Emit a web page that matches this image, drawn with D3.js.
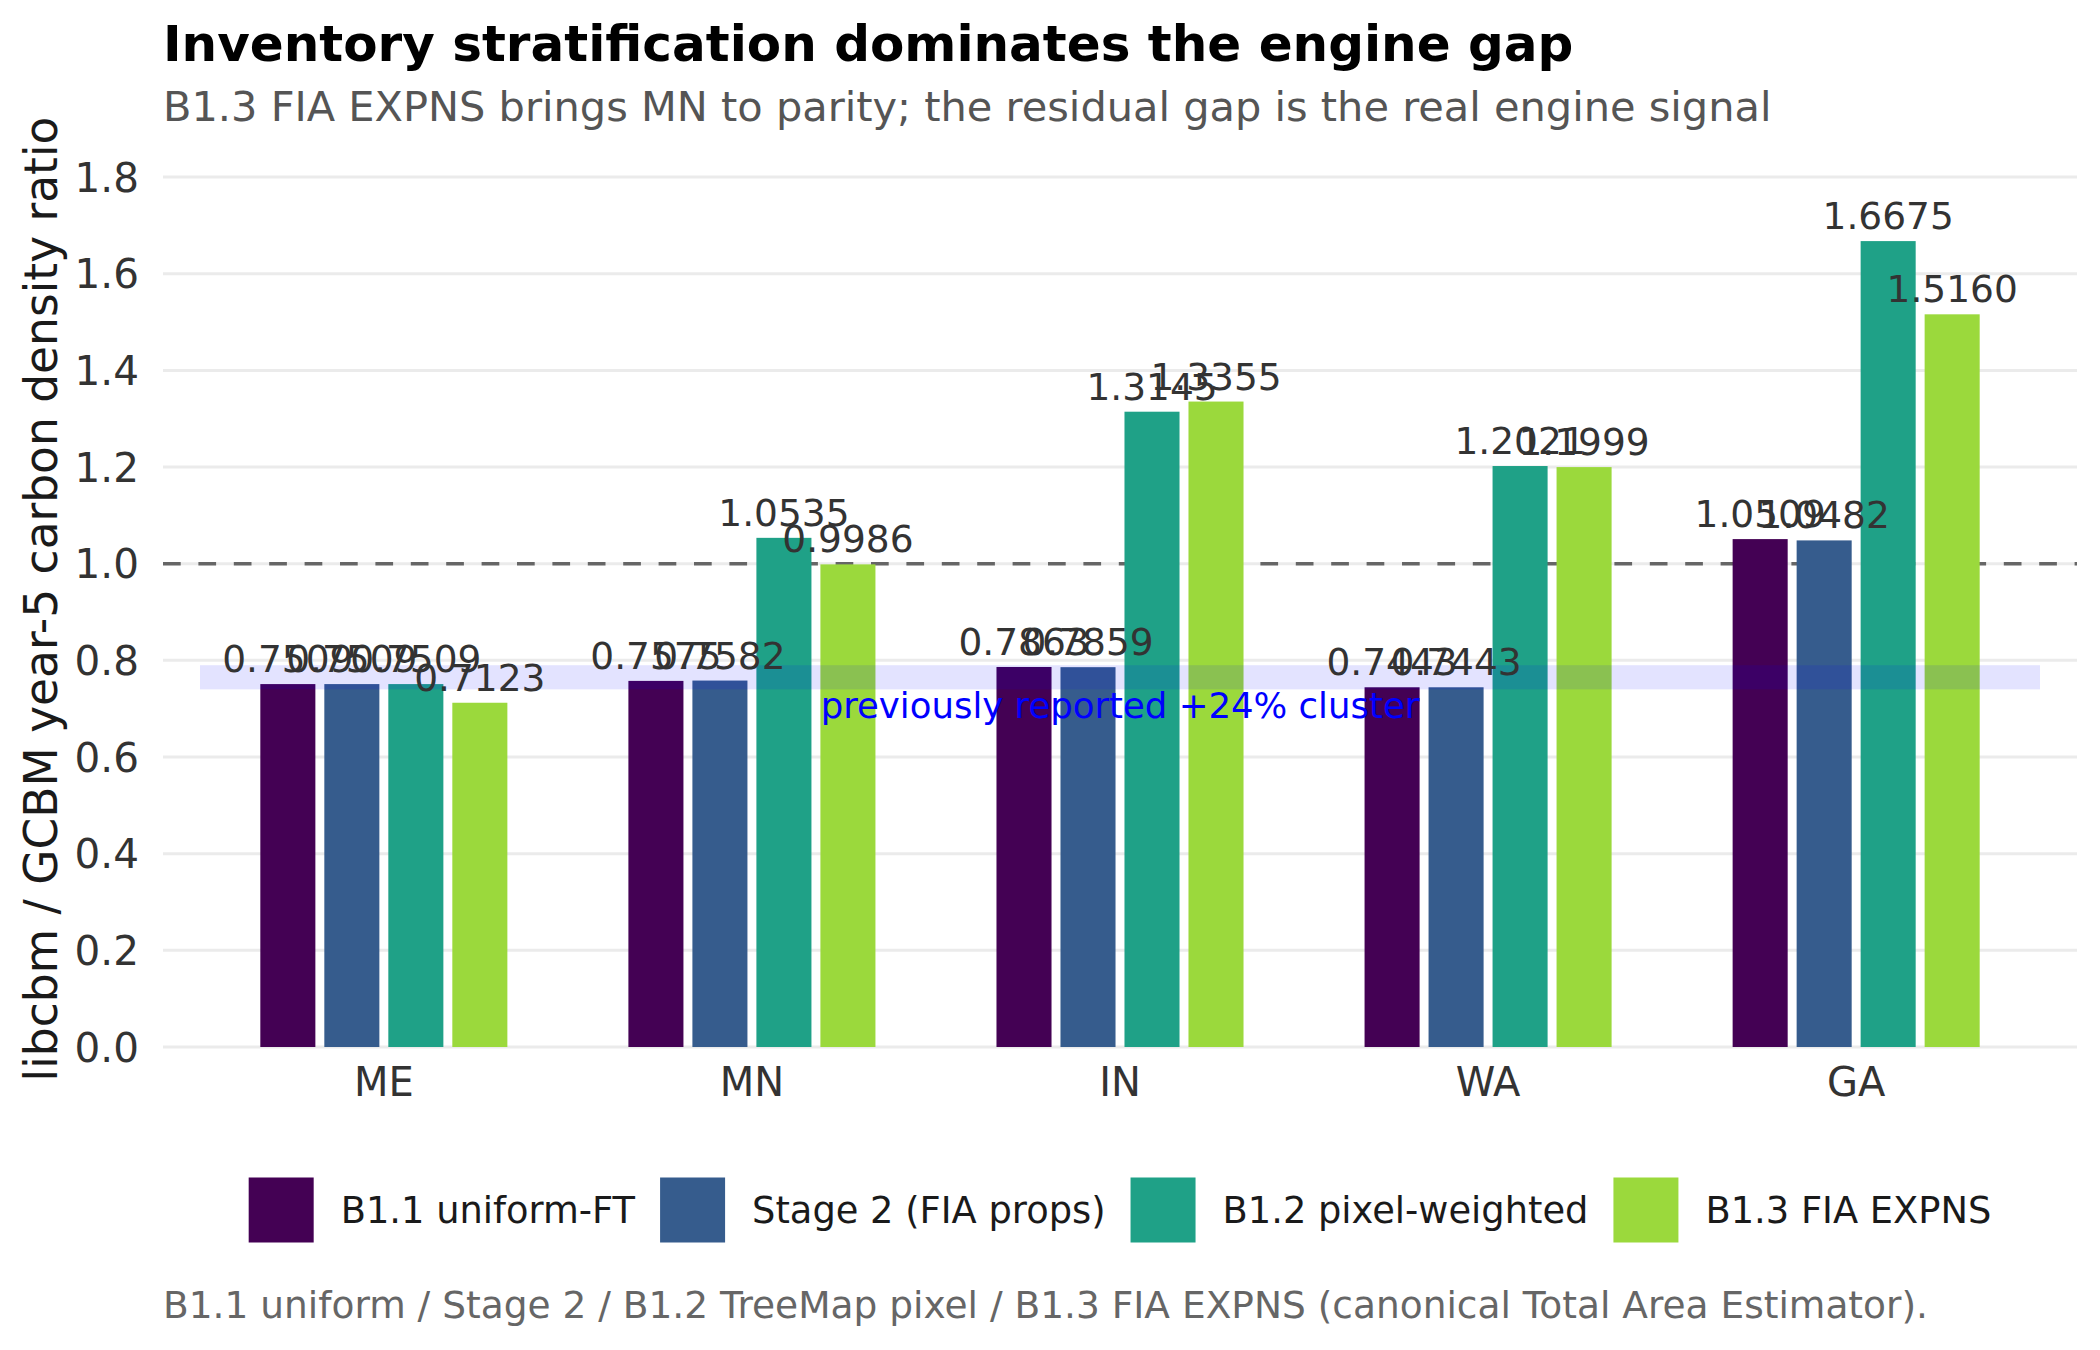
<!DOCTYPE html>
<html>
<head>
<meta charset="utf-8">
<script src="https://cdn.jsdelivr.net/npm/d3@7"></script>
<style>
  body { margin: 0; background: #fff; }
  svg { display: block; font-family: "DejaVu Sans", sans-serif; }
</style>
</head>
<body>
<div id="chart"></div>
<script>
// Data
const states = ['ME', 'MN', 'IN', 'WA', 'GA'];
const seriesNames = ['B1.1 uniform-FT', 'Stage 2 (FIA props)', 'B1.2 pixel-weighted', 'B1.3 FIA EXPNS'];
const seriesColors = ['#440154', '#365C8D', '#1FA187', '#9BD93C'];
const b11Uniform = [0.7509, 0.7575, 0.7863, 0.7443, 1.0509];
const stage2Props = [0.7509, 0.7582, 0.7859, 0.7443, 1.0482];
const b12Pixel = [0.7509, 1.0535, 1.3145, 1.2021, 1.6675];
const b13Expns = [0.7123, 0.9986, 1.3355, 1.1999, 1.5160];
const yTicks = [0, 0.2, 0.4, 0.6, 0.8, 1.0, 1.2, 1.4, 1.6, 1.8];
const clusterBand = [0.74, 0.79];
const parityLine = 1.0;

const seriesValues = [b11Uniform, stage2Props, b12Pixel, b13Expns];

const width = 2100,
	height = 1350;
const panel = { left: 163, right: 2077, top: 128, bottom: 1047 };

const svg = d3.select('#chart').append('svg')
	.attr('width', width)
	.attr('height', height);

// Scales
const x = d3.scalePoint()
	.domain(states)
	.range([panel.left, panel.right])
	.padding(0.6);

const xInner = d3.scaleBand()
	.domain(seriesNames)
	.range([-128, 128])
	.paddingInner(0.14)
	.paddingOuter(0.07);

const y = d3.scaleLinear()
	.domain([0, 1.9])
	.range([panel.bottom, panel.bottom - 1.9 * 483.3]);

const color = d3.scaleOrdinal()
	.domain(seriesNames)
	.range(seriesColors);

// Build rows for bars
const rows = [];
states.forEach((s, i) => {
	seriesNames.forEach((name, j) => {
		rows.push({ state: s, series: name, value: seriesValues[j][i] });
	});
});

// Gridlines
svg.append('g')
	.selectAll('line')
	.data(yTicks)
	.enter()
	.append('line')
		.attr('x1', panel.left)
		.attr('x2', panel.right)
		.attr('y1', d => y(d))
		.attr('y2', d => y(d))
		.style('stroke', '#EBEBEB')
		.style('stroke-width', 3);

// Y axis tick labels
svg.append('g')
	.selectAll('text')
	.data(yTicks)
	.enter()
	.append('text')
		.attr('x', 139)
		.attr('y', d => y(d))
		.attr('dy', '0.36em')
		.attr('text-anchor', 'end')
		.style('font-size', '40.5px')
		.style('fill', '#333')
		.text(d => d3.format('.1f')(d));

// X axis tick labels
svg.append('g')
	.selectAll('text')
	.data(states)
	.enter()
	.append('text')
		.attr('x', d => x(d))
		.attr('y', 1096)
		.attr('text-anchor', 'middle')
		.style('font-size', '40px')
		.style('fill', '#333')
		.text(d => d);

// Parity line
svg.append('line')
	.attr('x1', panel.left)
	.attr('x2', panel.right)
	.attr('y1', y(parityLine))
	.attr('y2', y(parityLine))
	.style('stroke', '#666')
	.style('stroke-width', 3.5)
	.style('stroke-dasharray', '17.7,17.7');

// Bars
svg.append('g')
	.selectAll('rect')
	.data(rows)
	.enter()
	.append('rect')
		.attr('x', d => x(d.state) + xInner(d.series))
		.attr('y', d => y(d.value))
		.attr('width', xInner.bandwidth())
		.attr('height', d => y(0) - y(d.value))
		.style('fill', d => color(d.series));

// Previously reported cluster band (drawn over bars)
svg.append('rect')
	.attr('x', 200)
	.attr('width', 2040 - 200)
	.attr('y', y(clusterBand[1]))
	.attr('height', y(clusterBand[0]) - y(clusterBand[1]))
	.style('fill', 'blue')
	.style('opacity', 0.11);

svg.append('text')
	.attr('x', (panel.left + panel.right) / 2)
	.attr('y', y(0.707))
	.attr('dy', '0.36em')
	.attr('text-anchor', 'middle')
	.style('font-size', '35.5px')
	.style('fill', 'blue')
	.text('previously reported +24% cluster');

// Value labels
svg.append('g')
	.selectAll('text')
	.data(rows)
	.enter()
	.append('text')
		.attr('x', d => x(d.state) + xInner(d.series) + xInner.bandwidth() / 2)
		.attr('y', d => y(d.value) - 12)
		.attr('text-anchor', 'middle')
		.style('font-size', '37.5px')
		.style('fill', '#333')
		.text(d => d3.format('.4f')(d.value));

// Titles
svg.append('text')
	.attr('x', panel.left)
	.attr('y', 61)
	.style('font-size', '50px')
	.style('font-weight', 'bold')
	.style('fill', '#000')
	.text('Inventory stratification dominates the engine gap');

svg.append('text')
	.attr('x', panel.left)
	.attr('y', 121)
	.style('font-size', '41.5px')
	.style('fill', '#555')
	.text('B1.3 FIA EXPNS brings MN to parity; the residual gap is the real engine signal');

// Y axis title
svg.append('text')
	.attr('transform', 'translate(57,' + 599 + ') rotate(-90)')
	.attr('text-anchor', 'middle')
	.style('font-size', '45.5px')
	.style('fill', '#1a1a1a')
	.text('libcbm / GCBM year-5 carbon density ratio');

// Legend, centered under the panel
const legend = svg.append('g');
const sq = 65, gapText = 27, gapItem = 25;
let cursor = 0;
seriesNames.forEach((name) => {
	const item = legend.append('g').attr('transform', 'translate(' + cursor + ',0)');
	item.append('rect')
		.attr('x', 0)
		.attr('y', -sq / 2)
		.attr('width', sq)
		.attr('height', sq)
		.style('fill', color(name));
	const t = item.append('text')
		.attr('x', sq + gapText)
		.attr('dy', '0.36em')
		.style('font-size', '36.8px')
		.style('fill', '#1a1a1a')
		.text(name);
	cursor += sq + gapText + t.node().getComputedTextLength() + gapItem;
});
const legendWidth = cursor - gapItem;
legend.attr('transform', 'translate(' + ((panel.left + panel.right) / 2 - legendWidth / 2) + ',1210)');

// Caption
svg.append('text')
	.attr('x', panel.left)
	.attr('y', 1318)
	.style('font-size', '37.5px')
	.style('fill', '#666')
	.text('B1.1 uniform / Stage 2 / B1.2 TreeMap pixel / B1.3 FIA EXPNS (canonical Total Area Estimator).');
</script>
</body>
</html>
